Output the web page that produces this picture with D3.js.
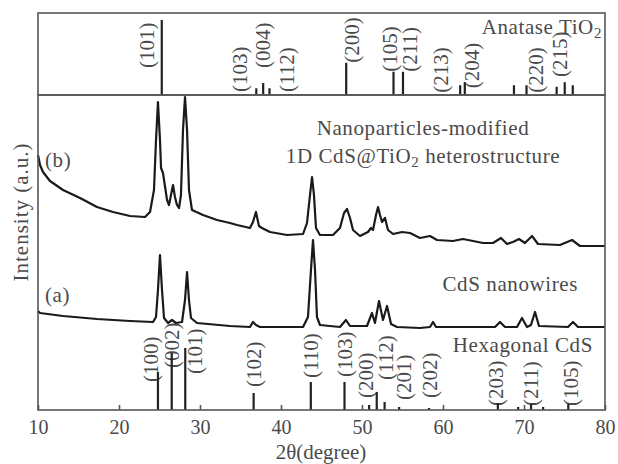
<!DOCTYPE html>
<html>
<head>
<meta charset="utf-8">
<script src="https://cdn.jsdelivr.net/npm/d3@7/dist/d3.min.js"></script>
<style>
    body { margin: 0; background: #fff; }
    text { font-family: 'Liberation Serif', 'Times New Roman', serif; fill: #4a4a4a; }
</style>
</head>
<body>
<svg id="chart" width="618" height="464"></svg>
<script>
'use strict';

// anatase TiO2 reference pattern (relative intensity, %)
var anataseAngle = [25.28, 36.95, 37.80, 38.58, 48.05, 53.89, 55.06, 62.12, 62.69, 68.76, 70.31, 74.03, 75.03, 76.02];
var anataseIntensity = [100, 9, 16, 9, 43, 31, 31, 13, 17, 13, 13, 11, 17, 13];

var anataseHkl = ['(101)', '(103)', '(004)', '(112)', '(200)', '(105)', '(211)', '(213)', '(204)', '(220)', '(215)'];
var anataseLabelAngle = [23.46, 34.94, 37.78, 40.74, 48.77, 53.46, 55.93, 59.75, 63.58, 71.48, 74.44];
var anataseLabelLevel = [36, 4, 36, 4, 43, 31, 31, 3, 9, 3, 24];

// hexagonal CdS reference pattern (a.u., drawn from the bottom of the main panel)
var cdsAngle = [24.81, 26.51, 28.18, 36.62, 43.68, 47.84, 50.88, 51.82, 52.79, 54.58, 58.28, 66.77, 69.28, 70.87, 72.36, 75.47];
var cdsIntensity = [38, 57, 62, 17, 28, 28, 5, 18, 8, 3, 2, 7, 3, 6, 3, 6];

var cdsHkl = ['(100)', '(002)', '(101)', '(102)', '(110)', '(103)', '(200)', '(112)', '(201)', '(202)', '(203)', '(211)', '(105)'];
var cdsLabelAngle = [23.95, 26.54, 29.38, 36.67, 43.70, 47.90, 50.49, 52.96, 55.19, 58.40, 66.54, 70.86, 75.80];
var cdsLabelLevel = [28, 42, 36, 23, 32, 33, 12, 30, 10, 12, 4, 4, 4];

// (b) nanoparticles-modified 1D CdS@TiO2
var hetAngle = [10.00, 10.25, 10.62, 11.48, 13.09, 15.19, 17.28, 19.26, 21.36, 23.21, 23.83, 24.32, 24.57, 24.81,
    25.06, 25.19, 25.43, 25.93, 26.17, 26.42, 26.67, 26.91, 27.16, 27.41, 27.65, 27.90, 28.15, 28.40, 28.64,
    29.01, 30.37, 32.10, 33.70, 34.57, 36.17, 36.54, 36.91, 37.28, 37.65, 38.64, 40.74, 42.72, 43.21, 43.58,
    43.83, 44.07, 44.32, 44.81, 46.42, 47.28, 47.78, 48.15, 48.52, 48.89, 49.75, 50.74, 51.11, 51.36, 51.73,
    51.98, 52.22, 52.47, 52.84, 53.21, 53.83, 54.94, 55.93, 57.16, 58.40, 59.26, 61.23, 62.47, 64.94, 66.17,
    67.16, 67.90, 68.64, 69.38, 70.12, 70.99, 71.73, 74.44, 75.93, 76.91, 80.00];
var hetIntensity = [255, 245, 238, 229, 220, 212, 203, 198, 194, 193, 198, 220, 270, 308,
    270, 242, 237, 210, 205, 215, 225, 213, 205, 202, 215, 280, 313, 280, 220,
    200, 195, 190, 187, 185, 182, 188, 198, 184, 182, 178, 175, 176, 187, 215,
    233, 215, 182, 175, 175, 182, 197, 201, 192, 180, 174, 178, 182, 180, 195,
    203, 195, 188, 192, 180, 176, 178, 177, 172, 174, 170, 169, 171, 167, 167,
    172, 166, 168, 171, 167, 174, 166, 165, 170, 164, 164];

// (a) CdS nanowires
var wireAngle = [10.00, 10.25, 13.09, 17.28, 21.36, 24.20, 24.57, 24.81, 25.06, 25.31, 25.56, 26.05, 26.54,
    27.04, 27.78, 28.15, 28.40, 28.64, 28.89, 29.63, 33.70, 36.17, 36.54, 36.91, 37.41, 42.72, 43.33, 43.70,
    43.95, 44.20, 44.44, 44.81, 47.28, 48.02, 48.52, 50.62, 51.23, 51.60, 52.10, 52.59, 53.09, 53.58, 54.32,
    57.16, 58.40, 58.77, 59.14, 66.42, 67.04, 67.65, 69.14, 69.75, 70.37, 70.86, 71.36, 71.85, 75.43, 76.05,
    76.67, 80.00];
var wireIntensity = [99, 97, 94, 91, 89, 88, 93, 120, 155, 120, 92, 87, 90,
    87, 88, 110, 138, 110, 92, 87, 84, 83, 88, 85, 83, 83, 93, 140,
    170, 140, 93, 85, 83, 90, 84, 84, 97, 87, 109, 90, 104, 86, 83,
    82, 83, 88, 83, 83, 88, 83, 83, 92, 83, 85, 98, 84, 83, 88,
    83, 83];

var xTicks = [10, 20, 30, 40, 50, 60, 70, 80];

var svg = d3.select('#chart');

var x = d3.scaleLinear().domain([10, 80]).range([38, 605]);
var yTop = d3.scaleLinear().domain([0, 100]).range([95, 20]);
var yMain = d3.scaleLinear().domain([0, 315]).range([410, 95]);

function zip(a, b) {
    return a.map(function(v, i) { return [v, b[i]]; });
}

function drawSticks(g, angles, values, y) {
    g.selectAll('line.stick')
        .data(zip(angles, values))
        .enter().append('line')
        .attr('class', 'stick')
        .attr('x1', function(d) { return x(d[0]); })
        .attr('x2', function(d) { return x(d[0]); })
        .attr('y1', y(0))
        .attr('y2', function(d) { return y(d[1]); })
        .attr('stroke', '#222')
        .attr('stroke-width', 2.2);
}

function drawLabels(g, labels, angles, levels, y) {
    g.selectAll('text.hkl')
        .data(labels)
        .enter().append('text')
        .attr('class', 'hkl')
        .attr('transform', function(d, i) {
            return 'translate(' + x(angles[i]) + ',' + y(levels[i]) + ') rotate(-90)';
        })
        .attr('dy', '0.35em')
        .style('font-size', '21px')
        .text(function(d) { return d; });
}

var line = d3.line()
    .x(function(d) { return x(d[0]); })
    .y(function(d) { return yMain(d[1]); });

// top panel
var topPanel = svg.append('g');
drawLabels(topPanel, anataseHkl, anataseLabelAngle, anataseLabelLevel, yTop);
drawSticks(topPanel, anataseAngle, anataseIntensity, yTop);

var tio2 = topPanel.append('text')
    .attr('x', 602)
    .attr('y', 34)
    .attr('text-anchor', 'end')
    .style('font-size', '21px')
    .style('letter-spacing', '0.6px')
    .text('Anatase TiO');
tio2.append('tspan').attr('dy', 4).style('font-size', '15px').text('2');

// main panel
var mainPanel = svg.append('g');
drawLabels(mainPanel, cdsHkl, cdsLabelAngle, cdsLabelLevel, yMain);
drawSticks(mainPanel, cdsAngle, cdsIntensity, yMain);

mainPanel.append('path')
    .datum(zip(hetAngle, hetIntensity))
    .attr('d', line)
    .attr('fill', 'none')
    .attr('stroke', '#1a1a1a')
    .attr('stroke-width', 2.2)
    .attr('stroke-linejoin', 'round');

mainPanel.append('path')
    .datum(zip(wireAngle, wireIntensity))
    .attr('d', line)
    .attr('fill', 'none')
    .attr('stroke', '#1a1a1a')
    .attr('stroke-width', 2.2)
    .attr('stroke-linejoin', 'round');

function note(txt, px, py, anchor) {
    return svg.append('text')
        .attr('x', px)
        .attr('y', py)
        .attr('text-anchor', anchor || 'start')
        .style('font-size', '21px')
        .style('letter-spacing', '0.6px')
        .text(txt);
}

note('Nanoparticles-modified', 423, 135, 'middle');
var het = note('1D CdS@TiO', 423, 163, 'middle');
het.append('tspan').attr('dy', 4).style('font-size', '15px').text('2');
het.append('tspan').attr('dy', -4).text(' heterostructure');
note('CdS nanowires', 578, 291, 'end');
note('Hexagonal CdS', 593, 352, 'end');
note('(b)', 45, 167);
note('(a)', 45, 302);

// frames
svg.append('rect')
    .attr('x', 38).attr('y', 13).attr('width', 567).attr('height', 82)
    .attr('fill', 'none').attr('stroke', '#555').attr('stroke-width', 1.6);
svg.append('rect')
    .attr('x', 38).attr('y', 95).attr('width', 567).attr('height', 315)
    .attr('fill', 'none').attr('stroke', '#555').attr('stroke-width', 1.6);

// x axis
var xAxis = svg.append('g')
    .attr('transform', 'translate(0,410)')
    .call(d3.axisBottom(x).tickValues(xTicks).tickSize(-5).tickSizeOuter(0).tickPadding(10));
xAxis.select('.domain').remove();
xAxis.selectAll('.tick line').attr('stroke', '#555').attr('stroke-width', 1.6);
xAxis.selectAll('.tick text')
    .style('font-family', "'Liberation Serif', 'Times New Roman', serif")
    .style('font-size', '20px')
    .attr('fill', '#4a4a4a');

svg.append('text')
    .attr('x', 321)
    .attr('y', 459)
    .attr('text-anchor', 'middle')
    .style('font-size', '21px')
    .text('2θ(degree)');

svg.append('text')
    .attr('transform', 'translate(28,212) rotate(-90)')
    .attr('text-anchor', 'middle')
    .style('font-size', '21px')
    .style('letter-spacing', '1px')
    .text('Intensity (a.u.)');
</script>
</body>
</html>
